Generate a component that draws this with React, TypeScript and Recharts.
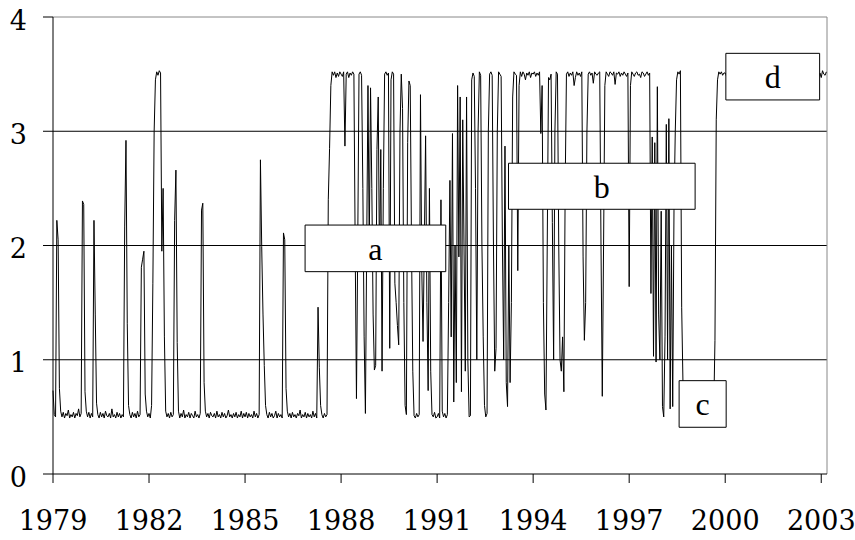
import React from "react";
import {
  LineChart,
  Line,
  XAxis,
  YAxis,
  ReferenceLine,
  ReferenceArea,
} from "recharts";

// sampled every 0.04 year, values in hundredths
const STEP = 0.04;
const PERIOD_STARTS = [1979, 1982, 1985, 1988, 1991, 1994, 1997, 2000];

const seg1979 = [
  73, 52, 50, 222, 205, 75, 55, 50, 54, 49,
  53, 51, 56, 49, 52, 50, 54, 49, 53, 51,
  57, 50, 53, 239, 236, 72, 55, 50, 54, 49,
  53, 50, 222, 140, 62, 52, 49, 54, 50, 53,
  49, 55, 51, 50, 53, 49, 57, 50, 52, 49,
  54, 50, 53, 49, 52, 50, 217, 292, 132, 60,
  52, 49, 54, 50, 53, 49, 55, 50, 52, 181,
  188, 195, 70, 55, 50,
];
const seg1982 = [
  53, 49, 60, 167, 300, 345, 352, 349, 353, 351,
  195, 250, 120, 55, 50, 53, 49, 54, 50, 52,
  222, 266, 115, 55, 49, 53, 50, 56, 49, 52,
  50, 54, 49, 53, 51, 49, 55, 50, 52, 49,
  53, 231, 237, 80, 55, 50, 53, 49, 54, 51,
  50, 53, 49, 55, 50, 52, 49, 54, 50, 53,
  49, 51, 56, 50, 52, 49, 53, 50, 54, 49,
  52, 50, 55, 49, 53,
];
const seg1985 = [
  50, 54, 49, 53, 50, 52, 49, 55, 50, 53,
  49, 52, 275, 199, 140, 95, 60, 52, 49, 54,
  50, 53, 49, 51, 55, 49, 53, 50, 52, 49,
  211, 205, 75, 55, 50, 53, 49, 54, 50, 52,
  49, 53, 51, 56, 49, 52, 50, 54, 49, 53,
  50, 52, 49, 55, 50, 53, 49, 146, 93, 60,
  52, 49, 53, 50, 52, 240, 285, 340, 352, 349,
  352, 347, 351, 348, 352,
];
const seg1988 = [
  350, 348, 352, 287, 350, 352, 347, 351, 349, 352,
  350, 200, 66, 200, 350, 352, 349, 250, 120, 53,
  200, 340, 200, 338, 250, 140, 91, 95, 284, 330,
  180, 284, 90, 250, 350, 352, 349, 351, 110, 345,
  352, 350, 167, 150, 130, 113, 300, 350, 320, 150,
  60, 52, 290, 344, 340, 200, 90, 51, 49, 53,
  50, 52, 332, 180, 116, 200, 296, 150, 73, 250,
  90, 52, 50, 54, 49,
];
const seg1991 = [
  50, 53, 49, 240, 55, 50, 53, 49, 52, 150,
  257, 120, 298, 63, 200, 80, 340, 190, 330, 72,
  310, 200, 90, 330, 100, 50, 51, 345, 351, 348,
  250, 100, 300, 352, 349, 200, 120, 60, 50, 53,
  300, 350, 352, 349, 200, 90, 110, 300, 352, 350,
  348, 200, 100, 287, 80, 59, 200, 80, 150, 330,
  352, 350, 349, 178, 340, 352, 348, 352, 350, 345,
  351, 349, 352, 347, 351,
];
const seg1994 = [
  350, 352, 348, 351, 349, 352, 298, 340, 150, 70,
  56, 200, 347, 345, 350, 220, 100, 300, 352, 350,
  200, 100, 90, 120, 72, 250, 350, 352, 348, 351,
  349, 352, 340, 347, 352, 349, 351, 348, 352, 190,
  117, 150, 300, 350, 352, 349, 351, 342, 352, 350,
  349, 351, 352, 200, 68, 200, 340, 352, 350, 348,
  352, 351, 349, 352, 341, 351, 350, 352, 348, 351,
  349, 352, 350, 348, 351,
];
const seg1997 = [
  164, 340, 352, 350, 348, 351, 352, 349, 350, 347,
  352, 351, 348, 350, 352, 349, 351, 158, 295, 103,
  290, 98, 339, 140, 100, 230, 59, 50, 120, 306,
  100, 311, 57, 200, 59, 231, 300, 345, 352, 350,
  353, 146, 80, 50, 50, 53, 49, 54, 50, 52,
  49, 55, 50, 53, 49, 51, 54, 50, 52, 49,
  53, 50, 55, 49, 52, 50, 53, 117, 310, 345,
  352, 350, 352, 349, 351,
];
const seg2000 = [
  351, 348, 352, 350, 347, 352, 349, 351, 353, 348,
  350, 352, 347, 351, 349, 352, 350, 348, 353, 349,
  351, 347, 352, 350, 348, 351, 353, 349, 350, 352,
  348, 351, 347, 352, 350, 349, 353, 348, 351, 350,
  352, 347, 349, 351, 353, 348, 350, 352, 349, 347,
  351, 353, 348, 350, 352, 349, 351, 347, 352, 350,
  348, 353, 349, 351, 350, 347, 352, 348, 351, 353,
  349, 350, 352, 348, 351, 347, 353, 350, 349, 352,
];

const SEGMENTS = [seg1979, seg1982, seg1985, seg1988, seg1991, seg1994, seg1997, seg2000];

const X_TICKS = [1979, 1982, 1985, 1988, 1991, 1994, 1997, 2000, 2003];
const Y_TICKS = [0, 1, 2, 3, 4];
const GRID_LEVELS = [1, 2, 3];
const X_MIN = 1979;
const X_MAX = 2003.18;

const BOXES = [
  { text: "a", x1: 1986.875, x2: 1991.27, y1: 1.771, y2: 2.179 },
  { text: "b", x1: 1993.23, x2: 1999.06, y1: 2.317, y2: 2.72 },
  { text: "c", x1: 1998.56, x2: 2000.03, y1: 0.409, y2: 0.817 },
  { text: "d", x1: 2000.02, x2: 2002.95, y1: 3.274, y2: 3.682 },
];

const data = SEGMENTS.flatMap((seg, p) =>
  seg.map((h, k) => ({ t: PERIOD_STARTS[p] + k * STEP, v: h / 100 }))
);

const tickFont = {
  fontFamily: "'DejaVu Serif', serif",
  fontSize: 27,
  fill: "#000",
};

export default function App() {
  return (
    <div style={{ position: "absolute", left: 0, top: 0, background: "#fff" }}>
      <LineChart
        width={855}
        height={540}
        data={data}
        margin={{ top: 17, right: 28, left: 0, bottom: 0 }}
      >
        <XAxis
          dataKey="t"
          type="number"
          domain={[X_MIN, X_MAX]}
          ticks={X_TICKS}
          height={66}
          tickSize={9}
          tickMargin={28}
          stroke="#000"
          tick={tickFont}
          interval={0}
        />
        <YAxis
          type="number"
          domain={[0, 4]}
          ticks={Y_TICKS}
          width={53}
          tickSize={10}
          tickMargin={16}
          stroke="#000"
          tick={{ ...tickFont, dy: 3 }}
          interval={0}
        />
        {GRID_LEVELS.map((y) => (
          <ReferenceLine key={y} y={y} stroke="#000" strokeWidth={1} />
        ))}
        <ReferenceLine y={4} stroke="#888" strokeWidth={1} />
        <ReferenceLine x={X_MAX} stroke="#888" strokeWidth={1} />
        <Line
          type="linear"
          dataKey="v"
          stroke="#000"
          strokeWidth={1}
          dot={false}
          activeDot={false}
          isAnimationActive={false}
        />
        {BOXES.map((b) => (
          <ReferenceArea
            key={b.text}
            x1={b.x1}
            x2={b.x2}
            y1={b.y1}
            y2={b.y2}
            fill="#fff"
            fillOpacity={1}
            stroke="#000"
            strokeWidth={1}
            zIndex={1000}
            label={{
              value: b.text,
              position: "center",
              fill: "#000",
              fontSize: 32,
              fontFamily: "'Liberation Serif', serif",
            }}
          />
        ))}
      </LineChart>
    </div>
  );
}
